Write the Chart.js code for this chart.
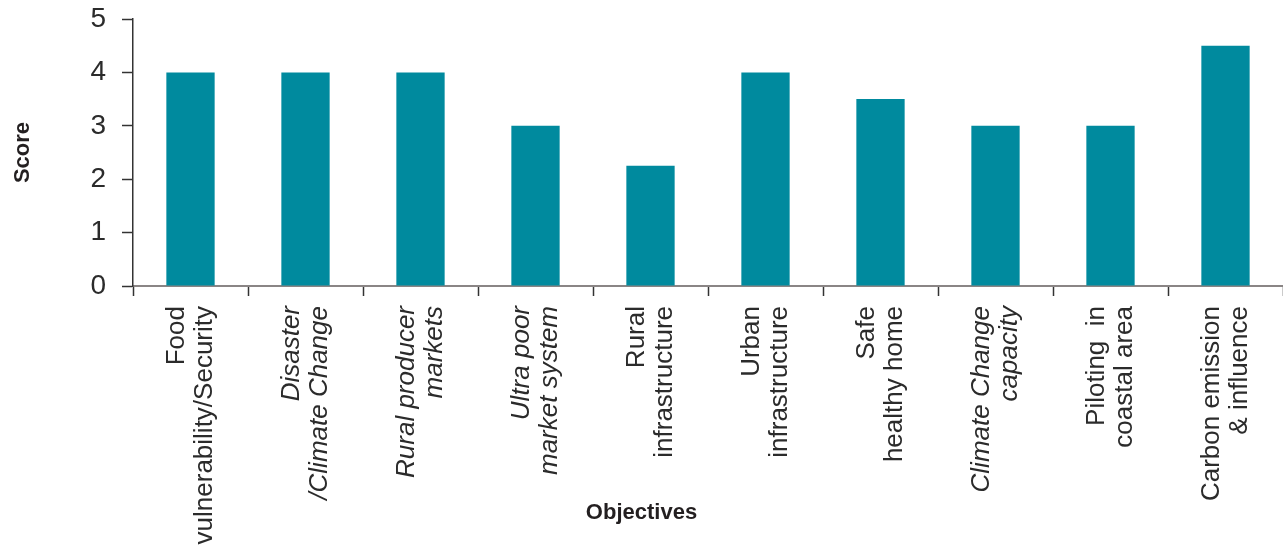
<!DOCTYPE html>
<html>
<head>
<meta charset="utf-8">
<script src="https://cdn.jsdelivr.net/npm/chart.js@4.4.1/dist/chart.umd.min.js"></script>
<style>
  html, body { margin: 0; padding: 0; background: #ffffff; }
  #wrap { width: 1283px; height: 556px; position: relative; }
</style>
</head>
<body>
<div id="wrap"><canvas id="c" width="1283" height="556"></canvas></div>
<script>
const categories = [
  ["Food", "vulnerability/Security"],
  ["Disaster", "/Climate Change"],
  ["Rural producer", "markets"],
  ["Ultra poor", "market system"],
  ["Rural", "infrastructure"],
  ["Urban", "infrastructure"],
  ["Safe", "healthy home"],
  ["Climate Change", "capacity"],
  ["Piloting  in", "coastal area"],
  ["Carbon emission", "& influence"]
];
const scores = [4, 4, 4, 3, 2.25, 4, 3.5, 3, 3, 4.5];
const italicLabels = [false, true, true, true, false, false, false, true, false, false];
const yTickValues = [0, 1, 2, 3, 4, 5];

const labelFont = "'Liberation Sans Narrow', 'Liberation Sans', Arial, sans-serif";
const boldFont = "'Liberation Sans', Arial, sans-serif";

new Chart(document.getElementById('c'), {
  type: 'bar',
  data: {
    labels: categories,
    datasets: [{
      data: scores,
      backgroundColor: '#008a9e',
      borderWidth: 0,
      barPercentage: 0.42,
      categoryPercentage: 1.0
    }]
  },
  options: {
    responsive: false,
    animation: false,
    layout: { padding: { top: 19, right: 0, bottom: 0, left: 0 } },
    plugins: {
      legend: { display: false },
      tooltip: { enabled: false },
      title: {
        display: true,
        position: 'bottom',
        text: 'Objectives',
        color: '#231f20',
        font: { family: boldFont, size: 22, weight: 'bold', lineHeight: 1.2 },
        padding: { top: -56.2, bottom: 29.8 }
      }
    },
    scales: {
      x: {
        offset: true,
        grid: {
          display: true,
          offset: true,
          drawOnChartArea: false,
          drawTicks: true,
          tickLength: 10,
          tickColor: '#333333',
          tickWidth: 1.5
        },
        border: { display: true, color: '#8a8585', width: 2 },
        ticks: {
          autoSkip: false,
          minRotation: 90,
          maxRotation: 90,
          padding: 10,
          labelOffset: -14,
          color: '#2b2b2b',
          font: (ctx) => ({
            family: labelFont,
            size: 26,
            style: italicLabels[ctx.index] ? 'italic' : 'normal',
            lineHeight: 1.077
          })
        },
        title: { display: false },
        afterFit: (scale) => {
          scale.height = 270;
          scale.paddingLeft = 0;
          scale.paddingRight = 0;
        }
      },
      y: {
        min: 0,
        max: 5,
        ticks: {
          stepSize: 0.5,
          padding: 16,
          color: '#2b2b2b',
          font: { family: labelFont, size: 28 },
          callback: (v) => (yTickValues.includes(v) ? String(v) : '')
        },
        grid: {
          display: true,
          drawOnChartArea: false,
          drawTicks: true,
          tickLength: 11,
          tickColor: '#333333',
          tickWidth: 1.5
        },
        border: { display: true, color: '#333333', width: 1.5 },
        title: {
          display: true,
          text: 'Score',
          color: '#231f20',
          font: { family: boldFont, size: 22, weight: 'bold' },
          padding: { top: 10, bottom: 0 }
        },
        afterFit: (scale) => {
          scale.width = 133;
          scale.paddingTop = 0;
          scale.paddingBottom = 0;
        }
      }
    }
  }
});
</script>
</body>
</html>
